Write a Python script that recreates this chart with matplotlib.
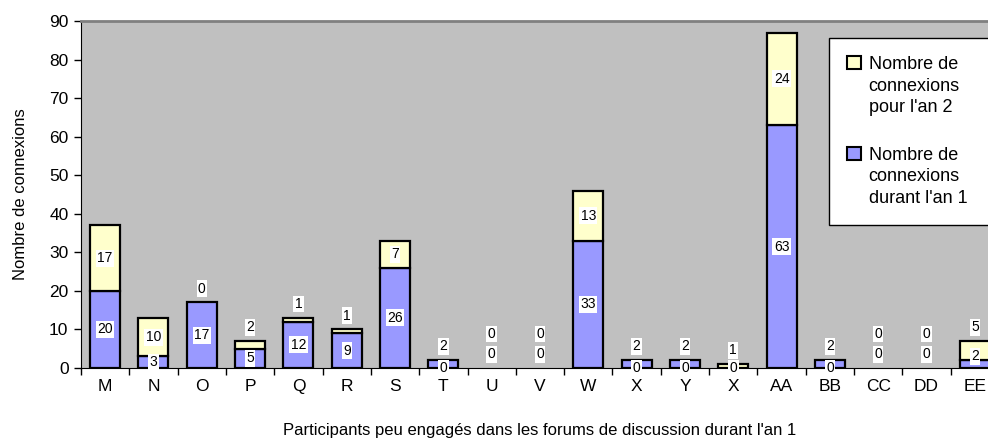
import numpy as np
import matplotlib
matplotlib.use('Agg')
from matplotlib import pyplot as plt
from matplotlib.patches import Patch, Rectangle

plt.rcParams['font.family'] = ['Liberation Sans', 'DejaVu Sans']

# categories (participants)
participants = ['M', 'N', 'O', 'P', 'Q', 'R', 'S', 'T', 'U', 'V', 'W',
                'X', 'Y', 'X', 'AA', 'BB', 'CC', 'DD', 'EE']

# bar heights as drawn
an1_bars = [20, 3, 17, 5, 12, 9, 26, 2, 0, 0, 33, 2, 2, 0, 63, 2, 0, 0, 2]
an2_bars = [17, 10, 0, 2, 1, 1, 7, 0, 0, 0, 13, 0, 0, 1, 24, 0, 0, 0, 5]

# data labels as printed on the chart
an1_labels = [20, 3, 17, 5, 12, 9, 26, 0, 0, 0, 33, 0, 0, 0, 63, 0, 0, 0, 2]
an2_labels = [17, 10, 0, 2, 1, 1, 7, 2, 0, 0, 13, 2, 2, 1, 24, 2, 0, 0, 5]

col_an1 = '#9999FF'
col_an2 = '#FFFFCC'

fig = plt.figure(figsize=(9.88, 4.43), dpi=100, facecolor='w')
ax = fig.add_axes([81/988., 75/443., 918/988., 347/443.])
ax.set_facecolor('#C0C0C0')

x = np.arange(len(participants))
a1 = np.array(an1_bars)
a2 = np.array(an2_bars)

lw1 = [1.6 if v > 0 else 0 for v in a1]
lw2 = [1.6 if v > 0 else 0 for v in a2]
ax.bar(x, a1, width=0.62, color=col_an1, edgecolor='black', linewidth=lw1, zorder=2)
ax.bar(x, a2, width=0.62, bottom=a1, color=col_an2, edgecolor='black', linewidth=lw2, zorder=2)

box = dict(facecolor='white', edgecolor='none', pad=1.0)
for i in range(len(x)):
    top = a1[i] + a2[i]
    # lower label
    if an1_labels[i] == 0 and a1[i] > 0:
        y1 = 0.0
    elif top == 0:
        y1 = 3.6
    else:
        y1 = a1[i] / 2.0
    # upper label
    if top == 0:
        y2 = 8.8
    elif a2[i] >= 5 and a1[i] > 0 and an2_labels[i] >= 5:
        y2 = a1[i] + a2[i] / 2.0
    else:
        y2 = top + 3.6
    if i == 18:
        y1, y2 = 3.0, 10.6
    ax.text(x[i], y1, str(an1_labels[i]), ha='center', va='center',
            fontsize=10, bbox=box, zorder=3)
    ax.text(x[i], y2, str(an2_labels[i]), ha='center', va='center',
            fontsize=10, bbox=box, zorder=3)

ax.set_xlim(-0.5, len(participants) - 0.5)
ax.set_ylim(0, 90)
ax.set_yticks(np.arange(0, 91, 10))
ax.set_xticks(np.arange(-0.5, len(participants), 1.0), minor=False)
ax.set_xticklabels([])
ax.set_xticks(x, minor=True)
ax.set_xticklabels(participants, minor=True)
ax.tick_params(axis='x', which='major', length=5, width=1, direction='out')
ax.tick_params(axis='x', which='minor', length=0, pad=8, labelsize=12.5)
ax.tick_params(axis='y', length=5, width=1, labelsize=12.5, pad=4)

ax.spines['left'].set_color('black')
ax.spines['bottom'].set_color('black')
ax.spines['top'].set_color('#808080')
ax.spines['top'].set_linewidth(2)
ax.spines['right'].set_visible(False)

ax.set_ylabel('Nombre de connexions', fontsize=12, labelpad=15)
ax.set_xlabel("Participants peu engagés dans les forums de discussion durant l'an 1",
              fontsize=12, labelpad=21)

handles = [Patch(facecolor=col_an2, edgecolor='black', lw=1.5),
           Patch(facecolor=col_an1, edgecolor='black', lw=1.5)]
leg = fig.legend(handles, ["Nombre de\nconnexions\npour l'an 2",
                           "Nombre de\nconnexions\ndurant l'an 1"],
                 loc='upper left', bbox_to_anchor=(829/988., 1 - 38/443.),
                 fontsize=13, frameon=False,
                 handlelength=0.75, handleheight=0.75, handletextpad=0.45,
                 labelspacing=1.7, borderpad=1.0, borderaxespad=0)
leg.set_zorder(6)
for t in leg.get_texts():
    t.set_linespacing(1.35)
# put each handle next to the first line of its label
try:
    for col in leg._legend_handle_box.get_children():
        for item in col.get_children():
            item.align = 'top'
except Exception:
    pass

# legend box runs past the right edge in the original
fig.canvas.draw()
bb = leg.get_window_extent()
W, H = fig.bbox.width, fig.bbox.height
fig.add_artist(Rectangle((bb.x0 / W, bb.y0 / H), (W - bb.x0 + 20) / W, bb.height / H,
                         transform=fig.transFigure, facecolor='white',
                         edgecolor='black', lw=1, zorder=5))
fig.savefig('out.png', dpi=100)
